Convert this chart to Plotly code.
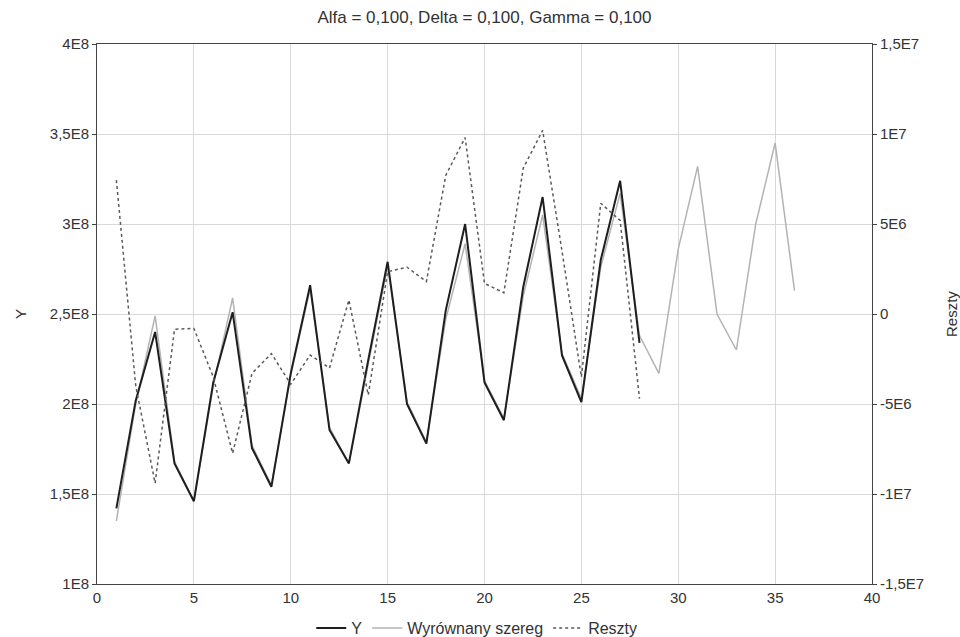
import plotly.graph_objects as go

# Data
x_obs = list(range(1, 29))
x_fit = list(range(1, 37))
y_obs = [1.42e8, 2.02e8, 2.40e8, 1.67e8, 1.46e8, 2.12e8, 2.51e8, 1.755e8, 1.54e8, 2.17e8,
         2.66e8, 1.856e8, 1.67e8, 2.245e8, 2.79e8, 2.00e8, 1.78e8, 2.52e8, 3.00e8, 2.12e8,
         1.91e8, 2.65e8, 3.15e8, 2.27e8, 2.01e8, 2.80e8, 3.24e8, 2.34e8]
y_fit = [1.35e8, 2.00e8, 2.49e8, 1.68e8, 1.46e8, 2.10e8, 2.59e8, 1.77e8, 1.55e8, 2.16e8,
         2.64e8, 1.87e8, 1.67e8, 2.22e8, 2.77e8, 2.01e8, 1.79e8, 2.47e8, 2.89e8, 2.13e8,
         1.92e8, 2.60e8, 3.05e8, 2.28e8, 2.03e8, 2.76e8, 3.17e8, 2.38e8, 2.17e8, 2.86e8,
         3.32e8, 2.50e8, 2.30e8, 3.00e8, 3.45e8, 2.63e8]
resid = [7.44e6, -4.0e6, -9.4e6, -0.85e6, -0.8e6, -3.5e6, -7.74e6, -3.3e6, -2.2e6, -3.9e6,
         -2.28e6, -3.0e6, 0.78e6, -4.5e6, 2.35e6, 2.6e6, 1.8e6, 7.7e6, 9.8e6, 1.7e6,
         1.18e6, 8.1e6, 10.2e6, 3.5e6, -3.5e6, 6.15e6, 5.2e6, -4.7e6]

y_ticks = [1e8, 1.5e8, 2e8, 2.5e8, 3e8, 3.5e8, 4e8]
y_ticktext = ["1E8", "1,5E8", "2E8", "2,5E8", "3E8", "3,5E8", "4E8"]
y2_ticks = [-1.5e7, -1e7, -5e6, 0, 5e6, 1e7, 1.5e7]
y2_ticktext = ["-1,5E7", "-1E7", "-5E6", "0", "5E6", "1E7", "1,5E7"]
x_ticks = [0, 5, 10, 15, 20, 25, 30, 35, 40]

FONT = "Liberation Sans, Arial, sans-serif"
TXT = "#333"
AX = "#444"

W, H = 960, 637
ML, MT, MR, MB = 97, 44, 88, 53
PW, PH = W - ML - MR, H - MT - MB

fig = go.Figure()
fig.add_trace(go.Scatter(x=x_fit, y=y_fit, mode="lines", name="Wyrównany szereg",
                         line=dict(color="#b3b3b3", width=1.5), legendrank=2))
fig.add_trace(go.Scatter(x=x_obs, y=y_obs, mode="lines", name="Y",
                         line=dict(color="#1e1e1e", width=2), legendrank=1))
fig.add_trace(go.Scatter(x=x_obs, y=resid, mode="lines", name="Reszty", yaxis="y2",
                         line=dict(color="#5a5a5a", width=1.5, dash="3px,3px"), legendrank=3))

axis_common = dict(showline=True, linecolor=AX, linewidth=1, gridcolor="#d9d9d9",
                   gridwidth=1, zeroline=False, automargin=False,
                   tickfont=dict(family=FONT, size=15, color=TXT))

fig.update_layout(
    width=W, height=H,
    paper_bgcolor="white", plot_bgcolor="white",
    margin=dict(l=ML, r=MR, t=MT, b=MB, autoexpand=False),
    title=dict(text="Alfa = 0,100, Delta = 0,100, Gamma = 0,100", x=0.5, xanchor="center",
               xref="paper", y=1 - 17 / H, yanchor="middle",
               font=dict(family=FONT, size=17, color=TXT)),
    xaxis=dict(range=[0, 40], tickvals=x_ticks, mirror=True, ticks="", **axis_common),
    yaxis=dict(range=[1e8, 4e8], tickvals=y_ticks, ticktext=y_ticktext, ticks="outside",
               ticklen=4, tickcolor=AX, **axis_common),
    yaxis2=dict(range=[-1.5e7, 1.5e7], tickvals=y2_ticks, ticktext=y2_ticktext, overlaying="y",
                side="right", ticks="outside", ticklen=4, tickcolor=AX, showgrid=False,
                showline=True, linecolor=AX, linewidth=1, zeroline=False, automargin=False,
                tickfont=dict(family=FONT, size=15, color=TXT)),
    legend=dict(orientation="h", x=0.49, xanchor="center", y=-27 / PH, yanchor="top",
                font=dict(family=FONT, size=16, color=TXT), itemwidth=30,
                traceorder="normal", bgcolor="rgba(0,0,0,0)"),
    showlegend=True,
    annotations=[
        dict(text="Y", xref="paper", yref="paper", x=(20 - ML) / PW, y=0.5,
             xanchor="center", yanchor="middle", textangle=-90, showarrow=False,
             font=dict(family=FONT, size=15, color=TXT)),
        dict(text="Reszty", xref="paper", yref="paper", x=(951 - ML) / PW, y=0.5,
             xanchor="center", yanchor="middle", textangle=-90, showarrow=False,
             font=dict(family=FONT, size=15, color=TXT)),
    ],
)

# remove the default page margin so the 960x637 figure fills the window exactly
fig.write_html("out.html", config={"displayModeBar": False},
               post_script="document.body.style.margin='0';document.body.style.overflow='hidden';")
